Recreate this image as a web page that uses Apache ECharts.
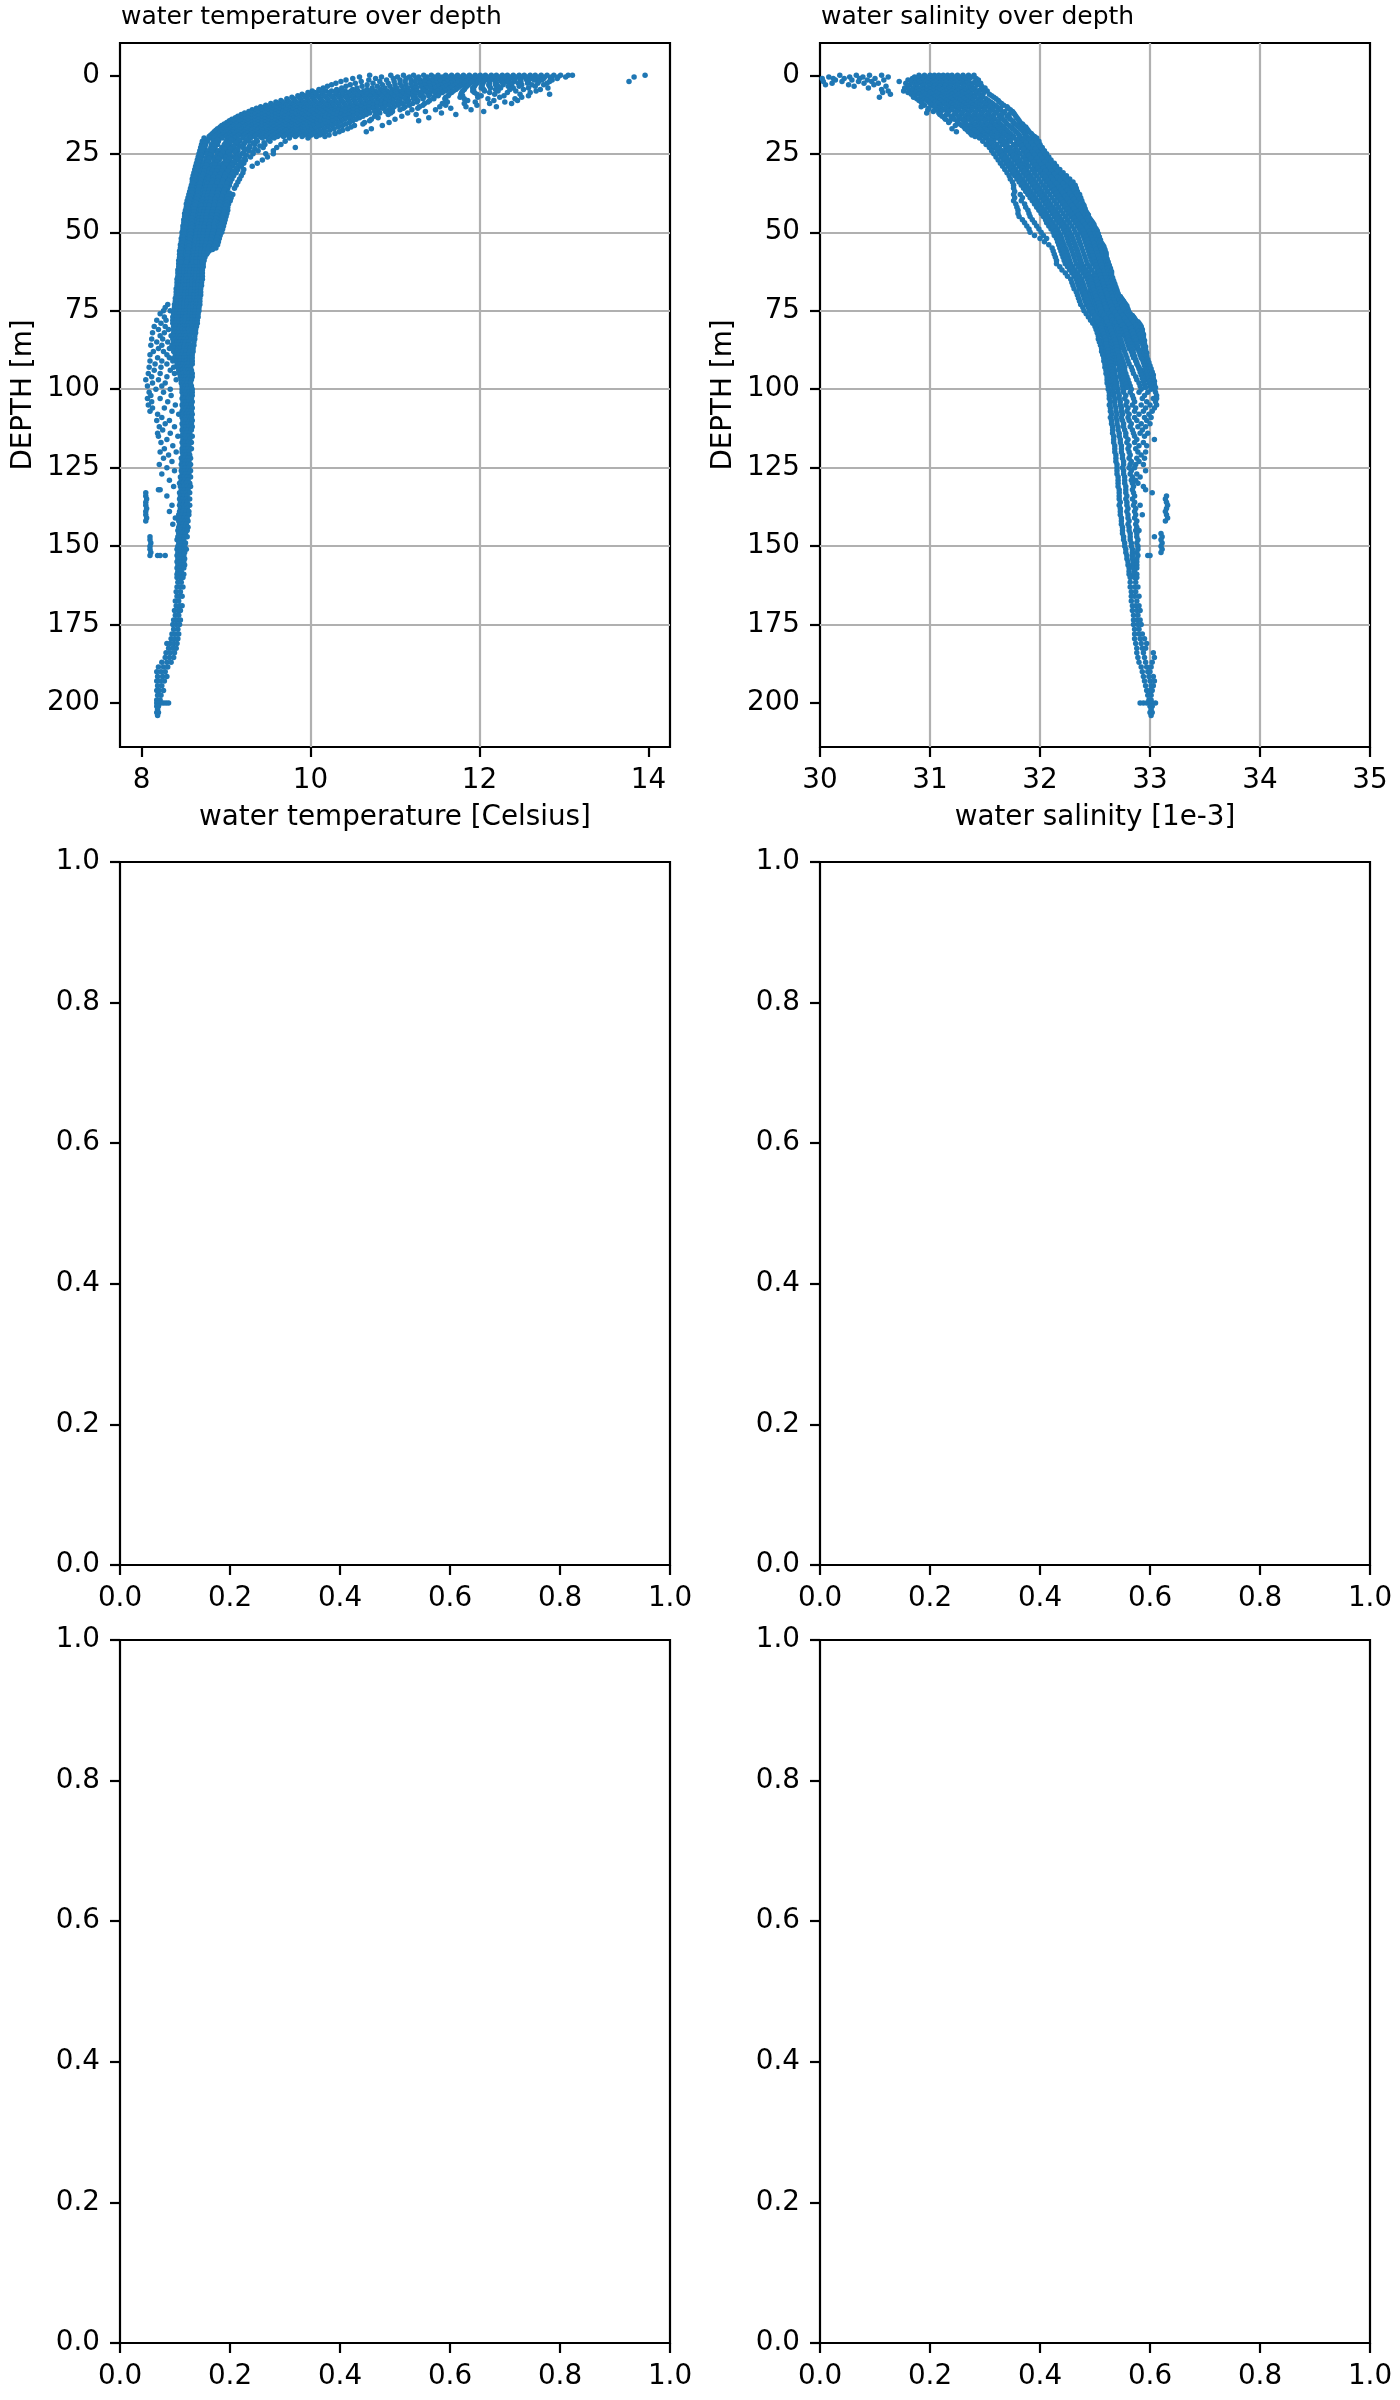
<!DOCTYPE html>
<html>
<head>
<meta charset="utf-8">
<script src="https://cdn.jsdelivr.net/npm/echarts@6/dist/echarts.min.js"></script>
<style>
html,body{margin:0;padding:0;background:#fff;}
#chart{width:1400px;height:2400px;}
</style>
</head>
<body>
<div id="chart"></div>
<script>
// ---------- tick labels ----------
const depthTicks = [0, 25, 50, 75, 100, 125, 150, 175, 200];
const tempTicks = [8, 10, 12, 14];
const salTicks = [30, 31, 32, 33, 34, 35];
const unitTicks = [0, 0.2, 0.4, 0.6, 0.8, 1.0];

// ---------- water temperature: rows are [depth, temperature values...] ----------
const tempSurface = [
[0, 10.7,10.95,11.1,11.22,11.34,11.43,11.51,11.6,11.67,11.74,11.81,11.88,11.95,12.01,12.07,12.14,12.2,12.27,12.33,12.4,12.47,12.53,12.6,12.66,12.73,12.8,12.88,12.96,13.05,13.1,13.96],
[0.5, 10.58,10.84,11.03,11.17,11.28,11.38,11.47,11.56,11.63,11.71,11.78,11.85,11.92,11.98,12.04,12.11,12.17,12.24,12.3,12.37,12.44,12.5,12.57,12.63,12.7,12.77,12.85,12.93,13.02,13.83],
[1, 10.5,10.77,10.98,11.13,11.25,11.36,11.45,11.53,11.62,11.69,11.76,11.83,11.9,11.96,12.03,12.09,12.16,12.22,12.29,12.36,12.42,12.49,12.55,12.62,12.69,12.76,12.84,12.92],
[1.5, 10.42,10.69,10.9,11.06,11.19,11.3,11.4,11.49,11.58,11.66,11.73,11.8,11.87,11.94,12.0,12.07,12.13,12.2,12.27,12.34,12.41,12.48,12.56,12.65,12.74,12.86],
[2, 10.36,10.6,10.82,10.99,11.12,11.24,11.35,11.44,11.53,11.61,11.69,11.77,11.84,11.91,11.98,12.05,12.12,12.19,12.26,12.33,12.41,12.49,12.58,12.7,12.83,13.77],
[2.5, 10.3,10.53,10.74,10.92,11.06,11.19,11.3,11.4,11.49,11.58,11.66,11.74,11.82,11.89,11.97,12.04,12.12,12.2,12.28,12.37,12.46,12.57,12.69,12.8],
[3, 10.25,10.47,10.67,10.85,11.0,11.13,11.25,11.35,11.45,11.54,11.63,11.71,11.79,11.87,11.95,12.03,12.11,12.19,12.28,12.38,12.5,12.62,12.76],
[3.5, 10.2,10.42,10.61,10.79,10.94,11.08,11.2,11.31,11.41,11.51,11.6,11.68,11.77,11.85,11.94,12.03,12.12,12.22,12.34,12.47,12.66],
[4, 10.15,10.37,10.55,10.73,10.88,11.02,11.15,11.26,11.37,11.47,11.56,11.65,11.74,11.83,11.92,12.02,12.13,12.25,12.4,12.58,12.81],
[4.5, 10.1,10.31,10.5,10.67,10.83,10.97,11.1,11.22,11.33,11.43,11.53,11.62,11.72,11.82,11.93,12.05,12.19,12.36,12.52,12.72],
[5, 10.02,10.1,10.18,10.25,10.33,10.41,10.48,10.56,10.63,10.7,10.77,10.84,10.91,10.98,11.05,11.12,11.19,11.26,11.34,11.42,11.5,11.59,11.69,11.8,11.92,12.06,12.22,12.43,12.67],
[5.5, 9.97,10.05,10.14,10.22,10.3,10.37,10.45,10.52,10.59,10.66,10.73,10.8,10.87,10.94,11.01,11.08,11.15,11.22,11.3,11.38,11.47,11.56,11.67,11.79,11.94,12.12,12.33,12.6],
[6, 9.9,9.98,10.06,10.14,10.22,10.3,10.38,10.45,10.53,10.6,10.67,10.74,10.81,10.88,10.95,11.02,11.09,11.16,11.24,11.32,11.41,11.52,11.64,11.78,11.97,12.18,12.48,12.83],
[6.5, 9.85,9.93,10.01,10.09,10.17,10.25,10.33,10.41,10.48,10.56,10.63,10.7,10.77,10.84,10.91,10.98,11.05,11.13,11.21,11.3,11.4,11.51,11.63,11.8,12.02,12.29,12.58],
[7, 9.78,9.86,9.94,10.02,10.1,10.18,10.26,10.34,10.42,10.5,10.57,10.64,10.71,10.78,10.85,10.92,10.99,11.07,11.15,11.24,11.34,11.46,11.6,11.77,11.98,12.24,12.5],
[7.5, 9.72,9.8,9.88,9.96,10.04,10.12,10.2,10.28,10.36,10.44,10.51,10.58,10.65,10.72,10.79,10.87,10.95,11.03,11.12,11.22,11.33,11.46,11.59,11.82,12.1,12.42],
[8, 9.65,9.73,9.81,9.89,9.97,10.05,10.13,10.21,10.29,10.37,10.45,10.52,10.59,10.66,10.73,10.81,10.89,10.97,11.06,11.16,11.27,11.41,11.6,11.86,12.17,12.45],
[8.5, 9.59,9.67,9.75,9.83,9.91,9.99,10.07,10.15,10.23,10.31,10.39,10.46,10.53,10.6,10.68,10.76,10.84,10.93,11.03,11.14,11.26,11.39,11.62,11.95,12.3],
[9, 9.53,9.61,9.69,9.77,9.85,9.93,10.01,10.09,10.17,10.25,10.33,10.4,10.47,10.54,10.62,10.7,10.79,10.88,10.98,11.09,11.21,11.35,11.56,11.82,12.12,12.38],
[9.5, 9.47,9.55,9.63,9.71,9.79,9.87,9.95,10.03,10.11,10.19,10.27,10.34,10.41,10.49,10.57,10.65,10.74,10.83,10.93,11.04,11.17,11.33,11.6,11.97],
[10, 9.41,9.49,9.57,9.65,9.73,9.81,9.89,9.97,10.05,10.13,10.21,10.28,10.35,10.43,10.51,10.6,10.69,10.78,10.88,10.99,11.12,11.29,11.53,11.84,12.2],
[10.5, 9.36,9.44,9.52,9.6,9.68,9.76,9.84,9.92,10.0,10.08,10.16,10.23,10.3,10.38,10.46,10.55,10.64,10.74,10.85,10.97,11.1,11.27,11.66],
[11, 9.31,9.39,9.47,9.55,9.63,9.71,9.79,9.87,9.95,10.03,10.11,10.18,10.25,10.33,10.41,10.5,10.59,10.69,10.8,10.93,11.06,11.2,11.48,11.9],
[11.5, 9.27,9.35,9.43,9.51,9.59,9.67,9.75,9.83,9.91,9.99,10.07,10.14,10.21,10.29,10.37,10.46,10.55,10.65,10.76,10.89,10.97,11.36,12.05],
[12, 9.22,9.3,9.38,9.46,9.54,9.62,9.7,9.78,9.86,9.94,10.02,10.09,10.16,10.24,10.32,10.41,10.5,10.6,10.7,10.82,10.95,11.15,11.55],
[12.5, 9.18,9.26,9.34,9.42,9.5,9.58,9.66,9.74,9.82,9.9,9.97,10.04,10.11,10.19,10.27,10.36,10.45,10.55,10.66,10.78,10.92,11.25,11.72],
[13, 9.14,9.22,9.3,9.38,9.46,9.54,9.62,9.7,9.78,9.85,9.92,9.99,10.06,10.14,10.22,10.31,10.4,10.5,10.62,10.76,11.08],
[13.5, 9.11,9.18,9.26,9.34,9.42,9.5,9.58,9.66,9.73,9.8,9.87,9.94,10.01,10.09,10.17,10.26,10.35,10.46,10.58,10.8,11.4],
[14, 9.07,9.14,9.22,9.3,9.38,9.46,9.54,9.62,9.69,9.76,9.83,9.9,9.97,10.04,10.12,10.21,10.3,10.41,10.54,10.72,11.0],
[14.5, 9.04,9.11,9.18,9.26,9.34,9.42,9.5,9.58,9.65,9.72,9.79,9.86,9.93,10.0,10.08,10.16,10.26,10.37,10.5,10.7,11.28],
[15, 9.01,9.08,9.15,9.22,9.3,9.38,9.46,9.54,9.61,9.68,9.75,9.82,9.89,9.96,10.03,10.11,10.21,10.33,10.46,10.64,10.93],
[15.5, 8.98,9.05,9.12,9.19,9.26,9.34,9.42,9.5,9.57,9.64,9.71,9.78,9.85,9.92,9.99,10.07,10.17,10.29,10.42,10.62],
[16, 8.95,9.02,9.09,9.16,9.23,9.3,9.38,9.46,9.53,9.6,9.67,9.74,9.81,9.88,9.95,10.03,10.13,10.25,10.38,10.52,10.85],
[16.5, 8.93,9.0,9.07,9.14,9.21,9.28,9.35,9.42,9.49,9.56,9.63,9.7,9.77,9.84,9.91,9.99,10.09,10.2,10.33,10.48],
[17, 8.9,8.97,9.04,9.11,9.18,9.25,9.32,9.39,9.46,9.53,9.6,9.67,9.74,9.81,9.88,9.96,10.05,10.16,10.28,10.44,10.72],
[17.5, 8.88,8.95,9.02,9.09,9.16,9.23,9.3,9.37,9.43,9.5,9.57,9.64,9.71,9.78,9.85,9.93,10.01,10.11,10.23,10.38],
[18, 8.86,8.93,9.0,9.07,9.13,9.2,9.27,9.34,9.41,9.48,9.55,9.62,9.69,9.76,9.83,9.9,9.98,10.07,10.18,10.34,10.66],
[18.5, 8.84,8.91,8.98,9.04,9.11,9.18,9.25,9.31,9.38,9.45,9.52,9.59,9.66,9.73,9.8,9.87,9.95,10.04,10.14,10.29],
[19, 8.82,8.89,8.96,9.02,9.09,9.15,9.22,9.29,9.36,9.43,9.5,9.56,9.63,9.7,9.77,9.84,9.92,10.01,10.11,10.22],
[19.5, 8.8,8.87,8.93,9.0,9.06,9.13,9.2,9.27,9.34,9.41,9.47,9.54,9.61,9.68,9.75,9.82,9.9,9.98,10.07,10.17]
];
const tempThermocline = [
[20, 8.74,8.81,8.86,8.95,9.03,9.1,9.2,9.29,9.43,9.57,9.75,9.97],
[21, 8.72,8.78,8.85,8.91,9.0,9.09,9.16,9.27,9.37,9.52,9.7],
[22, 8.71,8.76,8.83,8.9,8.98,9.04,9.14,9.21,9.34,9.46,9.65],
[23, 8.7,8.75,8.82,8.87,8.95,9.02,9.09,9.2,9.28,9.44,9.6,9.82],
[24, 8.69,8.74,8.79,8.86,8.91,9.0,9.07,9.14,9.27,9.38,9.56],
[25, 8.68,8.72,8.78,8.83,8.9,8.97,9.02,9.12,9.19,9.32,9.47,9.56],
[26, 8.67,8.71,8.77,8.82,8.87,8.95,9.0,9.09,9.16,9.29,9.49],
[27, 8.66,8.7,8.76,8.8,8.86,8.92,8.99,9.04,9.14,9.23,9.43],
[28, 8.65,8.69,8.73,8.79,8.85,8.89,8.97,9.03,9.1,9.21,9.37],
[29, 8.64,8.68,8.72,8.77,8.83,8.89,8.93,9.01,9.07,9.18,9.31],
[30, 8.63,8.66,8.72,8.75,8.8,8.87,8.91,8.99,9.04,9.14,9.21],
[31, 8.62,8.66,8.7,8.75,8.79,8.85,8.9,8.96,9.03,9.12,9.2],
[32, 8.61,8.65,8.69,8.73,8.78,8.83,8.88,8.95,9.01,9.09,9.18],
[33, 8.6,8.64,8.68,8.73,8.77,8.82,8.87,8.93,8.99,9.07,9.16],
[34, 8.6,8.63,8.67,8.71,8.76,8.8,8.86,8.92,8.97,9.05,9.14],
[35, 8.59,8.62,8.67,8.7,8.75,8.79,8.84,8.9,8.96,9.04,9.12],
[36, 8.58,8.62,8.65,8.7,8.74,8.78,8.83,8.88,8.95,9.02,9.1],
[37, 8.57,8.61,8.65,8.69,8.73,8.77,8.82,8.87,8.93,9.01],
[38, 8.56,8.6,8.64,8.68,8.72,8.76,8.81,8.86,8.92,8.99,9.08],
[39, 8.55,8.59,8.63,8.67,8.71,8.76,8.8,8.85,8.9,8.98,9.06],
[40, 8.54,8.58,8.62,8.66,8.7,8.75,8.79,8.84,8.91,8.97,9.05],
[41, 8.53,8.57,8.61,8.66,8.69,8.74,8.78,8.83,8.89,8.96,9.03],
[42, 8.53,8.57,8.6,8.65,8.69,8.73,8.77,8.82,8.88,8.95,9.02],
[43, 8.52,8.56,8.6,8.64,8.68,8.72,8.76,8.81,8.87,8.94,9.02],
[44, 8.51,8.55,8.59,8.63,8.67,8.71,8.75,8.8,8.86,8.93,9.01],
[45, 8.51,8.55,8.58,8.62,8.66,8.7,8.74,8.79,8.85,8.92,9.0],
[46, 8.5,8.54,8.58,8.62,8.66,8.7,8.74,8.78,8.84,8.91,8.99],
[47, 8.5,8.53,8.57,8.61,8.65,8.69,8.73,8.78,8.84,8.9,8.98],
[48, 8.49,8.53,8.57,8.61,8.65,8.68,8.72,8.77,8.83,8.89,8.97],
[49, 8.49,8.52,8.56,8.6,8.64,8.68,8.72,8.76,8.82,8.88,8.96],
[50, 8.48,8.52,8.56,8.6,8.63,8.67,8.71,8.76,8.81,8.87,8.95],
[51, 8.48,8.51,8.55,8.59,8.63,8.67,8.71,8.75,8.8,8.86,8.93],
[52, 8.47,8.51,8.55,8.58,8.62,8.66,8.7,8.74,8.8,8.85,8.92],
[53, 8.47,8.5,8.54,8.58,8.62,8.66,8.7,8.74,8.79,8.84,8.91],
[54, 8.46,8.5,8.54,8.58,8.61,8.65,8.69,8.73,8.78,8.83,8.9],
[55, 8.46,8.49,8.53,8.57,8.61,8.65,8.69,8.73,8.77,8.82,8.88],
[56, 8.45,8.49,8.53,8.57,8.6,8.64,8.68,8.72,8.76,8.8],
[57, 8.45,8.48,8.52,8.56,8.6,8.64,8.68,8.72,8.77],
[58, 8.45,8.48,8.52,8.56,8.6,8.63,8.67,8.71,8.75],
[59, 8.44,8.48,8.52,8.55,8.59,8.63,8.67,8.71,8.74],
[60, 8.44,8.47,8.51,8.55,8.59,8.63,8.66,8.7,8.73]
];
// readings at intermediate depths of the same layer
const tempThermoclineHalf = [
[20.5, 8.78,8.9,9.06,9.15,9.24,9.36,9.5],
[21.5, 8.75,8.88,9.04,9.12,9.22,9.32,9.45],
[22.5, 8.74,8.86,9.01,9.09,9.18,9.28,9.4],
[23.5, 8.72,8.84,8.98,9.05,9.14,9.24,9.34],
[24.5, 8.71,8.83,8.96,9.03,9.11,9.21,9.32],
[25.5, 8.7,8.81,8.93,9.05,9.14,9.24],
[26.5, 8.69,8.8,8.91,9.04,9.12,9.22],
[27.5, 8.68,8.78,8.89,9.01,9.09,9.18],
[28.5, 8.67,8.77,8.87,8.93,9.0,9.07,9.15],
[29.5, 8.66,8.75,8.86,8.91,8.97,9.04,9.12],
[30.5, 8.65,8.74,8.84,8.89,8.95,9.02,9.09],
[31.5, 8.64,8.73,8.82,8.87,8.93,8.99,9.07],
[32.5, 8.63,8.71,8.8,8.85,8.91,8.98,9.05],
[33.5, 8.62,8.7,8.79,8.84,8.9,8.96,9.03],
[34.5, 8.61,8.69,8.78,8.83,8.89,8.95,9.01],
[35.5, 8.6,8.68,8.77,8.81,8.87,8.93,9.0],
[36.5, 8.6,8.67,8.76,8.8,8.85,8.91,8.98],
[37.5, 8.59,8.67,8.75,8.79,8.84,8.9,8.97,9.04],
[38.5, 8.58,8.66,8.74,8.78,8.83,8.89,8.95,9.02],
[39.5, 8.57,8.65,8.73,8.78,8.82,8.87,8.94,9.02],
[40.5, 8.56,8.64,8.72,8.77,8.81,8.87,8.93,9.01],
[41.5, 8.55,8.63,8.71,8.76,8.8,8.86,8.92,9.0],
[42.5, 8.55,8.62,8.71,8.75,8.79,8.85,8.91,8.99],
[43.5, 8.54,8.62,8.7,8.74,8.78,8.84,8.9,8.98],
[44.5, 8.53,8.61,8.69,8.73,8.77,8.83,8.89,8.97],
[45.5, 8.53,8.6,8.68,8.72,8.76,8.82,8.88,8.96],
[46.5, 8.52,8.6,8.68,8.72,8.76,8.81,8.87,8.95],
[47.5, 8.52,8.59,8.67,8.71,8.75,8.8,8.86,8.94],
[48.5, 8.51,8.59,8.67,8.7,8.74,8.8,8.86,8.93],
[49.5, 8.5,8.58,8.66,8.7,8.74,8.79,8.85,8.92],
[50.5, 8.5,8.58,8.65,8.69,8.73,8.78,8.84,8.91],
[51.5, 8.49,8.57,8.65,8.69,8.73,8.78,8.83,8.9],
[52.5, 8.49,8.57,8.64,8.68,8.72,8.77,8.82,8.89],
[53.5, 8.48,8.56,8.64,8.68,8.72,8.76,8.81,8.88],
[54.5, 8.48,8.56,8.63,8.67,8.71,8.75,8.8,8.86],
[55.5, 8.47,8.55,8.63,8.67,8.71,8.75,8.79,8.84],
[56.5, 8.47,8.55,8.62,8.66,8.7,8.74,8.78],
[57.5, 8.46,8.54,8.62,8.66,8.7,8.74],
[58.5, 8.46,8.54,8.61,8.65,8.69,8.73],
[59.5, 8.46,8.53,8.61,8.65,8.69,8.72]
];
const tempMid = [
[61, 8.44,8.47,8.51,8.54,8.58,8.62,8.66,8.69,8.73],
[62, 8.43,8.47,8.5,8.54,8.58,8.62,8.65,8.69,8.72],
[63, 8.43,8.46,8.5,8.54,8.57,8.61,8.65,8.68,8.72],
[64, 8.43,8.46,8.5,8.53,8.57,8.61,8.64,8.68,8.72],
[65, 8.42,8.46,8.49,8.53,8.57,8.6,8.64,8.68,8.72],
[66, 8.42,8.45,8.49,8.53,8.56,8.6,8.64,8.67,8.71],
[67, 8.42,8.45,8.49,8.52,8.56,8.6,8.63,8.67,8.71],
[68, 8.41,8.45,8.48,8.52,8.56,8.59,8.63,8.67,8.7],
[69, 8.41,8.44,8.48,8.52,8.55,8.59,8.63,8.66,8.7],
[70, 8.41,8.44,8.48,8.51,8.55,8.59,8.62,8.66,8.7],
[71, 8.4,8.44,8.47,8.51,8.55,8.58,8.62,8.66,8.69],
[72, 8.4,8.43,8.47,8.51,8.54,8.58,8.62,8.65,8.69],
[73, 8.31,8.39,8.43,8.47,8.5,8.54,8.58,8.61,8.65,8.69],
[74, 8.28,8.39,8.42,8.46,8.5,8.54,8.57,8.61,8.65,8.68],
[75, 8.26,8.34,8.38,8.42,8.46,8.5,8.53,8.57,8.61,8.64,8.68],
[76, 8.22,8.38,8.42,8.45,8.49,8.53,8.57,8.6,8.64,8.67],
[77, 8.27,8.37,8.41,8.45,8.49,8.52,8.56,8.6,8.63,8.67],
[78, 8.18,8.29,8.37,8.41,8.45,8.48,8.52,8.56,8.6,8.63,8.66],
[79, 8.23,8.37,8.4,8.44,8.48,8.52,8.55,8.59,8.63,8.66],
[80, 8.15,8.28,8.38,8.41,8.45,8.49,8.52,8.56,8.6,8.65],
[81, 8.2,8.32,8.38,8.41,8.44,8.48,8.52,8.55,8.59,8.64],
[82, 8.13,8.27,8.38,8.42,8.45,8.49,8.52,8.56,8.6,8.64],
[83, 8.22,8.35,8.39,8.43,8.46,8.5,8.53,8.57,8.63],
[84, 8.12,8.25,8.37,8.4,8.44,8.47,8.51,8.55,8.59,8.63],
[85, 8.18,8.31,8.38,8.42,8.45,8.49,8.52,8.56,8.62],
[86, 8.11,8.24,8.36,8.4,8.44,8.47,8.51,8.55,8.58,8.62],
[87, 8.2,8.33,8.39,8.43,8.46,8.5,8.54,8.57,8.61],
[88, 8.14,8.26,8.38,8.42,8.46,8.49,8.53,8.57,8.61],
[89, 8.1,8.3,8.4,8.44,8.48,8.52,8.56,8.6],
[90, 8.19,8.33,8.39,8.43,8.47,8.5,8.54,8.57,8.6],
[91, 8.1,8.24,8.37,8.42,8.46,8.5,8.53,8.57,8.6],
[92, 8.16,8.3,8.42,8.46,8.49,8.53,8.56,8.6],
[93, 8.09,8.23,8.38,8.43,8.47,8.51,8.54,8.58],
[94, 8.15,8.34,8.44,8.48,8.52,8.55,8.59],
[95, 8.08,8.22,8.39,8.45,8.49,8.53,8.56,8.6],
[96, 8.12,8.3,8.46,8.5,8.53,8.57,8.6],
[97, 8.05,8.2,8.41,8.47,8.51,8.55,8.59],
[98, 8.13,8.28,8.47,8.51,8.54,8.58],
[99, 8.07,8.24,8.48,8.52,8.55,8.59],
[100, 8.17,8.34,8.48,8.51,8.54,8.57,8.6]
];
const tempDeep = [
[101, 8.09,8.26,8.48,8.52,8.56,8.6],
[102, 8.11,8.35,8.49,8.53,8.57,8.6],
[103, 8.07,8.22,8.48,8.51,8.55,8.59],
[104, 8.12,8.31,8.49,8.53,8.56,8.6],
[105, 8.08,8.4,8.48,8.52,8.55,8.59],
[106, 8.13,8.27,8.49,8.53,8.57,8.6],
[107, 8.1,8.36,8.48,8.51,8.55,8.59],
[108, 8.19,8.44,8.49,8.53,8.56,8.6],
[109, 8.24,8.48,8.52,8.56,8.59],
[110, 8.18,8.33,8.49,8.53,8.57,8.6],
[111, 8.28,8.48,8.51,8.55,8.59],
[112, 8.21,8.39,8.49,8.53,8.56,8.6],
[113, 8.25,8.48,8.52,8.55,8.59],
[114, 8.19,8.34,8.49,8.53,8.57],
[115, 8.2,8.43,8.48,8.52,8.56,8.6],
[116, 8.3,8.49,8.53,8.57],
[117, 8.23,8.48,8.51,8.55,8.59],
[118, 8.37,8.49,8.53,8.56],
[119, 8.27,8.48,8.52,8.55,8.59],
[120, 8.22,8.41,8.48,8.52,8.56],
[121, 8.32,8.49,8.53,8.57],
[122, 8.26,8.47,8.51,8.55,8.58],
[123, 8.36,8.48,8.52,8.56],
[124, 8.21,8.47,8.51,8.55,8.58],
[125, 8.3,8.48,8.52,8.56],
[126, 8.39,8.47,8.51,8.55,8.58],
[127, 8.24,8.48,8.52,8.56],
[128, 8.46,8.5,8.54,8.58],
[129, 8.33,8.47,8.51,8.55],
[130, 8.45,8.49,8.53,8.57],
[131, 8.38,8.46,8.5,8.54,8.58],
[132, 8.2,8.22,8.47,8.51,8.55],
[133, 8.05,8.45,8.49,8.53,8.57],
[134, 8.05,8.3,8.46,8.5,8.54],
[135, 8.06,8.45,8.49,8.53,8.57],
[136, 8.05,8.46,8.5,8.54],
[137, 8.05,8.36,8.45,8.49,8.53,8.57],
[138, 8.06,8.46,8.5,8.54],
[139, 8.05,8.33,8.45,8.49,8.53,8.56],
[140, 8.05,8.44,8.48,8.52,8.56],
[141, 8.06,8.4,8.46,8.5,8.54],
[142, 8.05,8.44,8.48,8.52,8.55],
[143, 8.37,8.45,8.49,8.53],
[144, 8.44,8.48,8.52,8.55],
[145, 8.43,8.47,8.51,8.54],
[146, 8.44,8.48,8.52],
[147, 8.1,8.43,8.47,8.51,8.54],
[148, 8.1,8.42,8.46,8.5],
[149, 8.11,8.44,8.48,8.52],
[150, 8.1,8.43,8.47,8.51],
[151, 8.1,8.42,8.46,8.5,8.53],
[152, 8.11,8.43,8.47,8.51],
[153, 8.1,8.19,8.22,8.28,8.42,8.46,8.5],
[154, 8.43,8.47,8.51],
[155, 8.42,8.46,8.5],
[156, 8.43,8.47,8.51],
[157, 8.42,8.46,8.5],
[158, 8.43,8.47],
[159, 8.42,8.46,8.5],
[160, 8.42,8.46,8.49],
[161.5, 8.43,8.47],
[163, 8.42,8.45,8.49],
[164.5, 8.41,8.46],
[166, 8.42,8.45,8.48],
[167.5, 8.4,8.44],
[169, 8.41,8.45,8.48],
[170.5, 8.39,8.43,8.46],
[172, 8.4,8.44],
[173.5, 8.38,8.42,8.46],
[175, 8.37,8.41,8.45],
[176.5, 8.38,8.43],
[178, 8.36,8.4,8.44],
[179.5, 8.35,8.39,8.43],
[181, 8.3,8.34,8.38,8.42],
[182.5, 8.32,8.37,8.41],
[184, 8.29,8.34,8.39],
[185.5, 8.28,8.33,8.38],
[187, 8.24,8.3,8.35],
[188.5, 8.2,8.26,8.31],
[190, 8.18,8.23,8.28],
[191.5, 8.19,8.25,8.3],
[193, 8.18,8.22,8.27],
[194.5, 8.19,8.24],
[196, 8.18,8.21,8.26],
[197.5, 8.19,8.23],
[199, 8.18,8.22],
[200, 8.18,8.2,8.23,8.26,8.29,8.32],
[201, 8.18,8.2],
[202, 8.19],
[203, 8.18,8.2],
[204, 8.19]
];

// ---------- water salinity: rows are [depth, salinity values...] ----------
const salSurface = [
[0, 30.18,30.33,30.45,30.56,30.9,30.95,31.0,31.04,31.08,31.12,31.16,31.2,31.25,31.3,31.35,31.4],
[0.5, 30.08,30.27,30.39,30.62,30.86,30.92,30.97,31.02,31.06,31.1,31.14,31.19,31.23,31.28,31.33,31.38],
[1, 30.02,30.12,30.22,30.36,30.5,30.84,30.89,30.94,30.99,31.03,31.07,31.11,31.15,31.2,31.26,31.31,31.36,31.42],
[1.5, 30.14,30.29,30.43,30.58,30.8,30.87,30.93,30.98,31.03,31.08,31.13,31.17,31.22,31.27,31.32,31.44],
[2, 30.03,30.2,30.35,30.47,30.72,30.83,30.9,30.96,31.01,31.05,31.1,31.15,31.19,31.24,31.29,31.35,31.41],
[2.5, 30.11,30.4,30.53,30.78,30.86,30.92,30.98,31.03,31.08,31.12,31.17,31.22,31.27,31.33,31.39,31.46],
[3, 30.05,30.26,30.49,30.82,30.88,30.94,31.0,31.05,31.1,31.14,31.19,31.24,31.3,31.36,31.43],
[3.5, 30.31,30.6,30.8,30.87,30.93,30.99,31.04,31.09,31.14,31.19,31.25,31.31,31.38,31.47],
[4, 30.44,30.77,30.85,30.91,30.97,31.03,31.08,31.13,31.18,31.23,31.29,31.35,31.41,31.5],
[4.5, 30.56,30.81,30.88,30.94,31.0,31.06,31.11,31.16,31.21,31.27,31.33,31.39,31.46],
[5, 30.62,30.76,30.84,30.9,30.97,31.03,31.09,31.14,31.2,31.25,31.31,31.37,31.44,31.52],
[5.5, 30.57,30.8,30.87,30.94,31.0,31.06,31.12,31.18,31.23,31.29,31.35,31.42,31.49],
[6, 30.64,30.83,30.9,30.96,31.02,31.08,31.14,31.2,31.26,31.32,31.38,31.45,31.54],
[6.5, 30.86,30.93,30.99,31.05,31.11,31.17,31.23,31.29,31.35,31.41,31.48,31.56],
[7, 30.54,30.85,30.92,30.98,31.04,31.1,31.16,31.22,31.28,31.34,31.4,31.47,31.58],
[7.5, 30.88,30.95,31.01,31.07,31.13,31.19,31.25,31.31,31.37,31.44,31.51,31.6],
[8, 30.9,30.97,31.03,31.09,31.15,31.21,31.27,31.33,31.39,31.46,31.53,31.62],
[8.5, 30.92,30.99,31.05,31.11,31.17,31.23,31.29,31.35,31.41,31.48,31.55,31.63],
[9, 30.93,31.0,31.07,31.13,31.19,31.25,31.31,31.37,31.43,31.5,31.57,31.65],
[9.5, 30.95,31.02,31.09,31.15,31.21,31.27,31.33,31.39,31.45,31.52,31.59,31.67],
[10, 30.92,31.04,31.1,31.17,31.23,31.29,31.35,31.41,31.47,31.54,31.61,31.7],
[10.5, 30.99,31.07,31.14,31.2,31.26,31.32,31.38,31.44,31.5,31.57,31.64,31.71],
[11, 30.98,31.06,31.13,31.2,31.26,31.32,31.38,31.44,31.5,31.57,31.64,31.73],
[11.5, 31.03,31.1,31.17,31.24,31.3,31.36,31.42,31.48,31.54,31.61,31.68,31.75],
[12, 30.97,31.08,31.16,31.23,31.29,31.35,31.41,31.47,31.53,31.6,31.67,31.76],
[12.5, 31.09,31.15,31.22,31.28,31.34,31.4,31.46,31.52,31.58,31.65,31.72,31.77],
[13, 31.11,31.19,31.26,31.32,31.38,31.44,31.5,31.56,31.63,31.7,31.78],
[13.5, 31.13,31.2,31.27,31.34,31.4,31.46,31.52,31.58,31.65,31.72,31.79],
[14, 31.14,31.22,31.29,31.35,31.41,31.47,31.53,31.59,31.66,31.73,31.8],
[14.5, 31.18,31.25,31.31,31.38,31.44,31.5,31.56,31.62,31.68,31.75,31.81],
[15, 31.17,31.25,31.32,31.38,31.44,31.5,31.56,31.62,31.69,31.76,31.82],
[15.5, 31.27,31.33,31.4,31.46,31.52,31.58,31.64,31.7,31.77,31.84],
[16, 31.23,31.29,31.35,31.41,31.47,31.53,31.59,31.65,31.72,31.79,31.85],
[16.5, 31.31,31.37,31.43,31.49,31.55,31.61,31.67,31.74,31.81,31.87],
[17, 31.2,31.32,31.38,31.44,31.5,31.56,31.62,31.68,31.75,31.82,31.88],
[17.5, 31.34,31.4,31.46,31.52,31.58,31.64,31.7,31.77,31.84,31.89],
[18, 31.24,31.35,31.41,31.47,31.53,31.59,31.65,31.71,31.78,31.85,31.9],
[18.5, 31.37,31.43,31.49,31.55,31.61,31.67,31.73,31.8,31.86,31.92],
[19, 31.38,31.44,31.5,31.56,31.62,31.68,31.74,31.81,31.87,31.93],
[19.5, 31.41,31.46,31.52,31.58,31.64,31.7,31.76,31.82,31.88,31.95]
];
const salUpper = [
[20, 31.45,31.5,31.57,31.61,31.66,31.72,31.76,31.81,31.86,31.92,31.97],
[21, 31.48,31.53,31.58,31.64,31.69,31.73,31.79,31.83,31.89,31.94,31.99],
[22, 31.51,31.55,31.61,31.66,31.7,31.76,31.8,31.86,31.9,31.95,32.0],
[23, 31.54,31.58,31.63,31.69,31.73,31.78,31.83,31.87,31.93,31.97,32.02],
[24, 31.56,31.61,31.66,31.7,31.76,31.8,31.85,31.9,31.94,31.99,32.04],
[25, 31.58,31.63,31.68,31.73,31.78,31.82,31.87,31.92,31.96,32.01,32.06],
[26, 31.6,31.65,31.7,31.75,31.8,31.85,31.89,31.94,31.98,32.03,32.08],
[27, 31.62,31.67,31.72,31.77,31.82,31.87,31.91,31.96,32.0,32.05,32.1],
[28, 31.64,31.69,31.74,31.79,31.84,31.88,31.93,31.98,32.03,32.08,32.13],
[29, 31.66,31.71,31.76,31.81,31.86,31.9,31.95,32.0,32.05,32.1,32.15],
[30, 31.68,31.73,31.78,31.83,31.88,31.93,31.97,32.02,32.07,32.12,32.18],
[31, 31.7,31.75,31.8,31.85,31.9,31.95,32.0,32.05,32.1,32.15,32.21],
[32, 31.72,31.77,31.82,31.87,31.92,31.97,32.02,32.07,32.12,32.18,32.24],
[33, 31.73,31.79,31.84,31.89,31.94,31.99,32.04,32.09,32.14,32.2,32.27],
[34, 31.75,31.81,31.86,31.91,31.96,32.01,32.06,32.11,32.17,32.23,32.3],
[35, 31.76,31.83,31.88,31.93,31.98,32.03,32.08,32.13,32.19,32.25,32.32],
[36, 31.76,31.85,31.9,31.95,32.0,32.05,32.1,32.15,32.21,32.27,32.33],
[37, 31.77,31.87,31.92,31.97,32.02,32.07,32.12,32.17,32.23,32.29,32.34],
[38, 31.76,31.82,31.89,31.94,31.99,32.04,32.09,32.14,32.19,32.25,32.3,32.36],
[39, 31.77,31.84,31.91,31.96,32.01,32.06,32.11,32.16,32.21,32.27,32.32,32.37],
[40, 31.76,31.83,31.93,31.98,32.03,32.08,32.13,32.18,32.23,32.29,32.34,32.38],
[41, 31.78,31.86,31.95,32.0,32.05,32.1,32.15,32.2,32.25,32.31,32.39],
[42, 31.79,31.87,31.97,32.02,32.07,32.12,32.17,32.22,32.27,32.33,32.4],
[43, 31.8,31.89,31.99,32.04,32.09,32.14,32.19,32.24,32.29,32.35,32.41],
[44, 31.8,31.9,32.01,32.06,32.11,32.16,32.21,32.26,32.31,32.37,32.43],
[45, 31.81,31.91,32.03,32.08,32.13,32.18,32.23,32.28,32.33,32.39,32.44],
[46, 31.84,31.93,32.05,32.1,32.15,32.2,32.25,32.3,32.35,32.41,32.46],
[47, 31.86,31.95,32.06,32.12,32.17,32.22,32.27,32.32,32.37,32.43,32.48],
[48, 31.88,31.97,32.08,32.14,32.19,32.24,32.29,32.34,32.39,32.45,32.49],
[49, 31.9,31.99,32.1,32.16,32.21,32.26,32.31,32.36,32.41,32.46,32.51],
[50, 31.91,32.01,32.12,32.17,32.22,32.27,32.32,32.37,32.42,32.47,32.52],
[51, 31.95,32.03,32.13,32.19,32.24,32.29,32.34,32.39,32.44,32.49,32.53],
[52, 32.0,32.06,32.15,32.2,32.25,32.3,32.35,32.4,32.45,32.5,32.54],
[53, 32.04,32.16,32.21,32.26,32.31,32.36,32.41,32.46,32.51,32.55],
[54, 32.08,32.17,32.22,32.27,32.32,32.37,32.42,32.47,32.52,32.57],
[55, 32.11,32.18,32.23,32.28,32.33,32.38,32.43,32.48,32.53,32.58],
[56, 32.12,32.19,32.24,32.29,32.34,32.39,32.44,32.49,32.54,32.59],
[57, 32.13,32.2,32.25,32.3,32.35,32.4,32.45,32.5,32.55,32.6],
[58, 32.14,32.21,32.26,32.31,32.36,32.41,32.46,32.51,32.56,32.6],
[59, 32.15,32.22,32.27,32.32,32.37,32.42,32.47,32.52,32.57,32.61],
[60, 32.15,32.23,32.28,32.33,32.38,32.43,32.48,32.53,32.58,32.62]
];
const salMid = [
[61, 32.18,32.25,32.3,32.35,32.4,32.45,32.5,32.55,32.59,32.63],
[62, 32.2,32.27,32.32,32.37,32.42,32.47,32.52,32.56,32.6,32.64],
[63, 32.23,32.29,32.34,32.39,32.44,32.49,32.53,32.57,32.61,32.65],
[64, 32.25,32.31,32.36,32.41,32.46,32.5,32.54,32.58,32.62,32.65],
[65, 32.28,32.33,32.38,32.43,32.47,32.51,32.55,32.59,32.63,32.66],
[66, 32.29,32.34,32.39,32.44,32.48,32.52,32.56,32.6,32.64,32.67],
[67, 32.3,32.35,32.4,32.45,32.49,32.53,32.57,32.61,32.65,32.68],
[68, 32.31,32.36,32.41,32.46,32.5,32.54,32.58,32.62,32.66,32.69],
[69, 32.33,32.38,32.43,32.47,32.51,32.55,32.59,32.63,32.67,32.7],
[70, 32.34,32.39,32.44,32.48,32.52,32.56,32.6,32.64,32.67,32.71],
[71, 32.35,32.4,32.45,32.49,32.53,32.57,32.61,32.65,32.69,32.74],
[72, 32.36,32.41,32.46,32.5,32.54,32.58,32.62,32.66,32.7,32.76],
[73, 32.37,32.42,32.47,32.51,32.55,32.59,32.63,32.67,32.71,32.78],
[74, 32.39,32.44,32.48,32.52,32.56,32.6,32.64,32.68,32.73,32.79],
[75, 32.4,32.45,32.49,32.53,32.57,32.61,32.65,32.69,32.74,32.8],
[76, 32.42,32.47,32.51,32.55,32.59,32.63,32.67,32.71,32.76,32.82],
[77, 32.44,32.49,32.53,32.57,32.61,32.65,32.69,32.73,32.78,32.85],
[78, 32.46,32.5,32.54,32.58,32.62,32.66,32.7,32.75,32.8,32.87],
[79, 32.48,32.52,32.56,32.6,32.64,32.68,32.72,32.77,32.83,32.9],
[80, 32.5,32.54,32.58,32.62,32.66,32.7,32.74,32.79,32.85,32.92],
[81, 32.51,32.55,32.59,32.63,32.67,32.71,32.75,32.8,32.86,32.93],
[82, 32.52,32.56,32.6,32.64,32.68,32.72,32.76,32.81,32.87,32.93],
[83, 32.53,32.57,32.61,32.65,32.69,32.73,32.77,32.82,32.88,32.94],
[84, 32.53,32.57,32.61,32.65,32.69,32.73,32.78,32.84,32.9,32.94],
[85, 32.54,32.58,32.62,32.66,32.7,32.74,32.79,32.85,32.91,32.94],
[86, 32.55,32.59,32.63,32.67,32.71,32.75,32.8,32.86,32.95],
[87, 32.56,32.6,32.64,32.68,32.72,32.76,32.81,32.88,32.95],
[88, 32.56,32.6,32.64,32.68,32.72,32.77,32.83,32.9,32.96],
[89, 32.57,32.61,32.65,32.69,32.73,32.78,32.84,32.91],
[90, 32.58,32.62,32.66,32.7,32.74,32.79,32.85,32.92,32.96],
[91, 32.58,32.62,32.66,32.7,32.75,32.8,32.87,32.97],
[92, 32.59,32.63,32.67,32.71,32.76,32.81,32.88,32.95,32.98],
[93, 32.59,32.63,32.67,32.72,32.77,32.83,32.9,32.99],
[94, 32.6,32.64,32.68,32.72,32.77,32.84,32.92,33.0],
[95, 32.6,32.64,32.68,32.73,32.78,32.85,32.94,33.02],
[96, 32.61,32.65,32.69,32.73,32.79,32.87,32.96,33.02],
[97, 32.61,32.65,32.69,32.74,32.8,32.88,32.97,33.03],
[98, 32.61,32.65,32.7,32.75,32.81,32.9,32.99,33.03],
[99, 32.62,32.66,32.7,32.75,32.82,32.91,33.0,33.04],
[100, 32.62,32.66,32.71,32.76,32.83,32.92,33.01,33.04]
];
// readings at intermediate depths, 20-100 m
const salHalf = [
[20.5, 31.55,31.64,31.79,31.84,31.9,31.95],
[21.5, 31.56,31.67,31.81,31.87,31.92,31.97],
[22.5, 31.58,31.69,31.83,31.89,31.94,32.0],
[23.5, 31.61,31.72,31.85,31.91,31.96,32.02],
[24.5, 31.64,31.74,31.88,31.93,31.98,32.03],
[25.5, 31.66,31.76,31.9,31.95,32.0,32.05],
[26.5, 31.68,31.78,31.92,31.97,32.02,32.07],
[27.5, 31.7,31.8,31.94,31.99,32.04,32.1],
[28.5, 31.72,31.82,31.96,32.01,32.07,32.12],
[29.5, 31.74,31.84,31.98,32.03,32.09,32.14],
[30.5, 31.76,31.86,32.0,32.05,32.1,32.16],
[31.5, 31.78,31.88,32.03,32.08,32.13,32.19],
[32.5, 31.8,31.9,32.05,32.1,32.16,32.22],
[33.5, 31.82,31.92,32.07,32.12,32.18,32.25],
[34.5, 31.84,31.94,32.09,32.15,32.21,32.28],
[35.5, 31.86,31.96,32.11,32.17,32.23,32.3],
[36.5, 31.88,31.98,32.13,32.19,32.25,32.31],
[37.5, 31.9,32.0,32.15,32.21,32.27,32.33],
[38.5, 31.92,32.02,32.17,32.23,32.29,32.35],
[39.5, 31.94,32.04,32.19,32.25,32.31,32.36],
[40.5, 31.96,32.06,32.21,32.27,32.33,32.38],
[41.5, 31.98,32.08,32.23,32.29,32.35,32.4],
[42.5, 32.0,32.1,32.25,32.31,32.37,32.41],
[43.5, 32.02,32.12,32.27,32.33,32.39,32.42],
[44.5, 32.04,32.14,32.29,32.35,32.41,32.44],
[45.5, 32.06,32.16,32.31,32.37,32.43,32.45],
[46.5, 32.08,32.18,32.33,32.39,32.44,32.47],
[47.5, 32.1,32.2,32.35,32.41,32.46,32.49],
[48.5, 32.12,32.22,32.37,32.43,32.48,32.5],
[49.5, 32.14,32.24,32.39,32.45,32.49,32.52],
[50.5, 32.15,32.26,32.4,32.46,32.5,32.53],
[51.5, 32.17,32.28,32.42,32.47,32.51,32.54],
[52.5, 32.18,32.3,32.43,32.48,32.52,32.55],
[53.5, 32.19,32.31,32.44,32.49,32.54,32.56],
[54.5, 32.2,32.32,32.45,32.5,32.55,32.58],
[55.5, 32.21,32.33,32.46,32.51,32.56,32.59],
[56.5, 32.22,32.34,32.47,32.52,32.57,32.6],
[57.5, 32.23,32.35,32.48,32.53,32.58,32.6],
[58.5, 32.24,32.36,32.49,32.54,32.59,32.61],
[59.5, 32.25,32.37,32.5,32.55,32.6,32.62],
[60.5, 32.27,32.38,32.51,32.56,32.61,32.63],
[61.5, 32.28,32.4,32.52,32.57,32.61,32.64],
[62.5, 32.3,32.42,32.54,32.58,32.62,32.65],
[63.5, 32.32,32.44,32.55,32.59,32.63,32.65],
[64.5, 32.34,32.45,32.56,32.6,32.64,32.66],
[65.5, 32.36,32.46,32.57,32.61,32.65,32.67],
[66.5, 32.37,32.47,32.58,32.62,32.66,32.68],
[67.5, 32.38,32.48,32.59,32.63,32.67,32.69],
[68.5, 32.39,32.49,32.6,32.64,32.68,32.7],
[69.5, 32.41,32.5,32.61,32.65,32.69,32.71],
[70.5, 32.42,32.51,32.62,32.66,32.7,32.73],
[71.5, 32.43,32.52,32.63,32.67,32.72,32.75],
[72.5, 32.44,32.53,32.64,32.68,32.73,32.77],
[73.5, 32.45,32.54,32.65,32.7,32.75,32.79],
[74.5, 32.47,32.55,32.66,32.71,32.76,32.8],
[75.5, 32.48,32.56,32.68,32.73,32.79,32.81],
[76.5, 32.5,32.58,32.7,32.75,32.81,32.84],
[77.5, 32.52,32.6,32.72,32.77,32.83,32.86],
[78.5, 32.53,32.61,32.73,32.79,32.85,32.89],
[79.5, 32.55,32.63,32.75,32.81,32.87,32.91],
[80.5, 32.56,32.64,32.77,32.83,32.89,32.92],
[81.5, 32.57,32.65,32.78,32.84,32.9,32.93],
[82.5, 32.58,32.66,32.79,32.85,32.91,32.94],
[83.5, 32.59,32.67,32.8,32.86,32.92,32.94],
[84.5, 32.6,32.68,32.81,32.87,32.93,32.95],
[85.5, 32.6,32.69,32.82,32.88,32.93,32.95],
[86.5, 32.61,32.7,32.83,32.89,32.94,32.96],
[87.5, 32.62,32.7,32.84,32.9,32.94,32.96],
[88.5, 32.62,32.71,32.85,32.91,32.95,32.97],
[89.5, 32.63,32.72,32.86,32.92,32.96,32.97],
[90.5, 32.64,32.72,32.87,32.93,32.97,32.98],
[91.5, 32.64,32.73,32.88,32.94,32.97,32.99],
[92.5, 32.65,32.74,32.89,32.95,32.98,33.0],
[93.5, 32.65,32.74,32.9,32.96,32.99,33.01],
[94.5, 32.66,32.75,32.91,32.97,33.0,33.02],
[95.5, 32.66,32.76,32.92,32.98,33.01,33.03],
[96.5, 32.67,32.76,32.93,32.99,33.02,33.03],
[97.5, 32.67,32.77,32.94,33.0,33.03,33.04],
[98.5, 32.68,32.78,32.95,33.01,33.03,33.04],
[99.5, 32.68,32.79,32.96,33.02,33.04,33.05]
];
const salDeep = [
[101, 32.63,32.67,32.71,32.76,32.82,32.9,32.98,33.05],
[102, 32.63,32.67,32.72,32.78,32.84,32.95,33.06],
[103, 32.63,32.68,32.72,32.77,32.85,32.93,33.03,33.06],
[104, 32.64,32.68,32.73,32.79,32.86,32.97,33.05],
[105, 32.63,32.68,32.73,32.78,32.84,32.92,33.0,33.06],
[106, 32.64,32.69,32.74,32.8,32.87,32.96,33.04],
[107, 32.64,32.69,32.74,32.79,32.86,32.94,33.02],
[108, 32.65,32.7,32.75,32.81,32.9,32.99],
[109, 32.64,32.69,32.74,32.8,32.86,32.95,33.01],
[110, 32.65,32.7,32.75,32.81,32.88,32.97],
[111, 32.65,32.7,32.76,32.83,32.92,33.0],
[112, 32.66,32.71,32.76,32.82,32.89,32.96],
[113, 32.66,32.71,32.77,32.84,32.93],
[114, 32.66,32.72,32.78,32.85,32.91,32.98],
[115, 32.67,32.72,32.78,32.86,32.95],
[116, 32.67,32.73,32.8,32.88,33.04],
[117, 32.67,32.73,32.79,32.86,32.94],
[118, 32.68,32.74,32.81,32.9,32.97],
[119, 32.68,32.74,32.8,32.87],
[120, 32.68,32.74,32.81,32.89,32.96],
[121, 32.69,32.75,32.82,32.92],
[122, 32.69,32.75,32.81,32.88,32.95],
[123, 32.69,32.76,32.83,32.9],
[124, 32.7,32.76,32.82,32.87,32.94],
[125, 32.7,32.75,32.81,32.86],
[126, 32.7,32.76,32.83,32.96],
[127, 32.7,32.76,32.82,32.88],
[128, 32.71,32.77,32.84,32.91],
[129, 32.71,32.77,32.83,32.87],
[130, 32.71,32.77,32.84,32.89],
[131, 32.71,32.78,32.85,32.94],
[132, 32.72,32.78,32.84,32.96],
[133, 32.72,32.78,32.85,33.02],
[134, 32.72,32.79,32.86,33.15],
[135, 32.72,32.78,32.84,33.14],
[136, 32.73,32.79,32.86,33.15],
[137, 32.72,32.79,32.85,32.91,33.16],
[138, 32.73,32.8,32.87,33.15],
[139, 32.73,32.79,32.86,33.14],
[140, 32.73,32.8,32.87,32.93,33.15],
[141, 32.74,32.8,32.86,33.16],
[142, 32.74,32.81,32.88,33.14],
[143, 32.74,32.8,32.87],
[144, 32.75,32.81,32.88],
[145, 32.75,32.81,32.87,32.9],
[146, 32.75,32.82,32.88,33.1],
[147, 32.76,32.82,32.88,33.04,33.11],
[148, 32.76,32.82,32.89,33.1],
[149, 32.77,32.83,32.88,33.11],
[150, 32.77,32.83,32.89,33.1],
[151, 32.78,32.84,32.89,33.11],
[152, 32.78,32.84,32.88,33.1],
[153, 32.79,32.84,32.89,32.98,33.0],
[154, 32.79,32.84,32.88],
[155, 32.8,32.85,32.88],
[156, 32.8,32.84,32.88],
[157, 32.81,32.85,32.88],
[158, 32.81,32.86],
[159, 32.81,32.85,32.88],
[160, 32.82,32.86,32.88],
[161.5, 32.82,32.87],
[163, 32.82,32.86,32.89],
[164.5, 32.83,32.87],
[166, 32.83,32.86,32.9],
[167.5, 32.83,32.88],
[169, 32.84,32.87,32.9],
[170.5, 32.84,32.88,32.91],
[172, 32.85,32.89],
[173.5, 32.85,32.88,32.91],
[175, 32.85,32.89,32.92],
[176.5, 32.86,32.9],
[178, 32.86,32.9,32.93],
[179.5, 32.86,32.91,32.95],
[181, 32.87,32.92,32.97],
[182.5, 32.88,32.93,32.96],
[184, 32.88,32.94,33.03],
[185.5, 32.89,32.95,33.04],
[187, 32.9,32.96,33.02],
[188.5, 32.92,32.97,33.01],
[190, 32.93,32.98,33.0],
[191.5, 32.94,32.99,33.03],
[193, 32.95,33.0,33.04],
[194.5, 32.96,33.01,33.03],
[196, 32.97,33.0,33.02],
[197.5, 32.98,33.01],
[199, 32.99,33.01],
[200, 32.91,32.94,32.97,33.0,33.02,33.05],
[201, 33.0,33.02],
[202, 33.01],
[203, 33.0,33.02],
[204, 33.01]
];

// ---------- build ----------
function toPoints() {
  const out = [];
  for (const rows of arguments) {
    for (const r of rows) {
      for (let i = 1; i < r.length; i++) out.push([r[i], r[0]]);
    }
  }
  return out;
}
const tempPoints = toPoints(tempSurface, tempThermocline, tempThermoclineHalf, tempMid, tempDeep);
const salPoints = toPoints(salSurface, salUpper, salMid, salHalf, salDeep);

const FONT = 'DejaVu Sans';
const TICK_FS = 27.8;
const LW = 2.2;

function baseAxis(extra) {
  const ax = {
    type: 'value',
    axisLine: { show: false, onZero: false },
    axisTick: { show: true, inside: false, length: 10, lineStyle: { color: '#000', width: LW } },
    axisLabel: { color: '#000', fontSize: TICK_FS, fontFamily: FONT, margin: 20 },
    splitLine: { show: false },
    nameTextStyle: { color: '#000', fontSize: TICK_FS, fontFamily: FONT },
    nameLocation: 'middle'
  };
  for (const k in extra) {
    if (typeof extra[k] === 'object' && !Array.isArray(extra[k]) && ax[k]) {
      ax[k] = Object.assign({}, ax[k], extra[k]);
    } else {
      ax[k] = extra[k];
    }
  }
  return ax;
}
const gridSplit = { show: true, showMinLine: false, showMaxLine: false, lineStyle: { color: '#b0b0b0', width: LW } };

function depthAxis(gi) {
  return baseAxis({
    gridIndex: gi, inverse: true, min: -10.3, max: 214, minInterval: 25, maxInterval: 25,
    name: 'DEPTH [m]', nameGap: 82,
    axisTick: { customValues: depthTicks },
    axisLabel: { customValues: depthTicks },
    splitLine: gridSplit
  });
}
function unitAxis(gi) {
  return baseAxis({
    gridIndex: gi, min: 0, max: 1, interval: 0.2,
    axisLabel: { formatter: v => v.toFixed(1) }
  });
}

const gridBase = { show: true, borderColor: '#000', borderWidth: LW, backgroundColor: 'transparent', containLabel: false };
const option = {
  backgroundColor: '#fff',
  animation: false,
  title: [
    { text: 'water temperature over depth', left: 121, top: 5, padding: 0,
      textStyle: { fontSize: 25, fontWeight: 'normal', color: '#000', fontFamily: FONT } },
    { text: 'water salinity over depth', left: 821, top: 5, padding: 0,
      textStyle: { fontSize: 25, fontWeight: 'normal', color: '#000', fontFamily: FONT } }
  ],
  grid: [
    Object.assign({ left: 120, top: 43, width: 550, height: 704 }, gridBase),
    Object.assign({ left: 820, top: 43, width: 550, height: 704 }, gridBase),
    Object.assign({ left: 120, top: 862, width: 550, height: 703 }, gridBase),
    Object.assign({ left: 820, top: 862, width: 550, height: 703 }, gridBase),
    Object.assign({ left: 120, top: 1640, width: 550, height: 703 }, gridBase),
    Object.assign({ left: 820, top: 1640, width: 550, height: 703 }, gridBase)
  ],
  xAxis: [
    baseAxis({
      gridIndex: 0, min: 7.745, max: 14.255, minInterval: 2, maxInterval: 2,
      name: 'water temperature [Celsius]', nameGap: 57,
      axisTick: { customValues: tempTicks },
      axisLabel: { customValues: tempTicks },
      splitLine: gridSplit
    }),
    baseAxis({
      gridIndex: 1, min: salTicks[0], max: salTicks[salTicks.length - 1], interval: 1,
      name: 'water salinity [1e-3]', nameGap: 57,
      splitLine: gridSplit
    }),
    unitAxis(2), unitAxis(3), unitAxis(4), unitAxis(5)
  ],
  yAxis: [
    depthAxis(0), depthAxis(1),
    unitAxis(2), unitAxis(3), unitAxis(4), unitAxis(5)
  ],
  series: [
    { type: 'scatter', xAxisIndex: 0, yAxisIndex: 0, data: tempPoints, symbolSize: 5.5,
      itemStyle: { color: '#1f77b4', opacity: 1 }, silent: true, z: 3 },
    { type: 'scatter', xAxisIndex: 1, yAxisIndex: 1, data: salPoints, symbolSize: 5.5,
      itemStyle: { color: '#1f77b4', opacity: 1 }, silent: true, z: 3 }
  ]
};
const chart = echarts.init(document.getElementById('chart'), null, { renderer: 'canvas' });
chart.setOption(option);
</script>
</body>
</html>
